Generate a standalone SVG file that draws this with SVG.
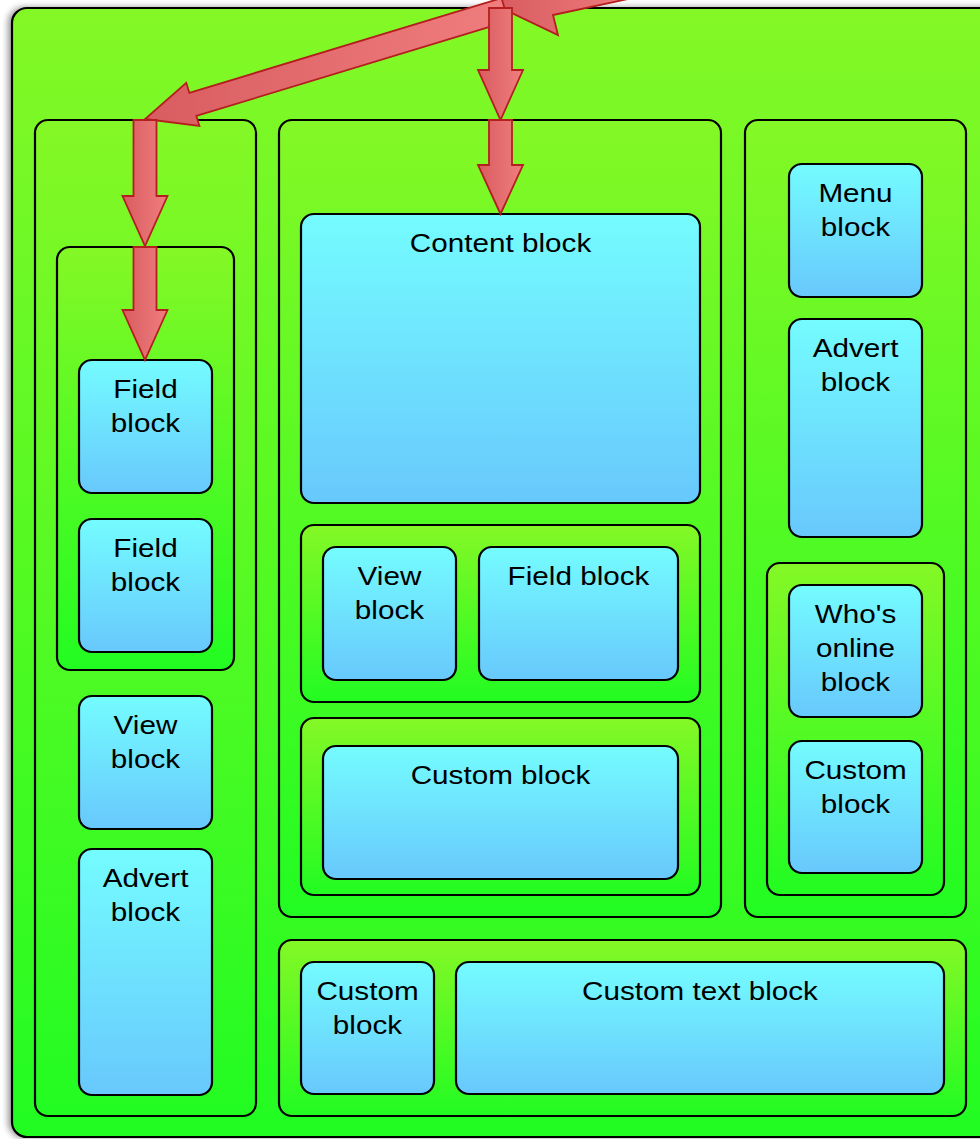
<svg xmlns="http://www.w3.org/2000/svg" width="980" height="1139" viewBox="0 0 980 1139">
<defs>
<linearGradient id="gGreen" x1="0" y1="0" x2="0" y2="1">
<stop offset="0" stop-color="#84f826"/>
<stop offset="1" stop-color="#22fc22"/>
</linearGradient>
<linearGradient id="gBlue" x1="0" y1="0" x2="0" y2="1">
<stop offset="0" stop-color="#74fcff"/>
<stop offset="1" stop-color="#68c8fc"/>
</linearGradient>
<linearGradient id="gRed" x1="0" y1="0" x2="1" y2="0">
<stop offset="0" stop-color="#d85c60"/>
<stop offset="1" stop-color="#f07e7e"/>
</linearGradient>
<filter id="shadow" x="-5%" y="-5%" width="110%" height="110%">
<feDropShadow dx="-3" dy="0" stdDeviation="3" flood-color="#000" flood-opacity="0.4"/>
</filter>
<style>
.cont{fill:url(#gGreen);stroke:#000;stroke-width:2.2}
.blk{fill:url(#gBlue);stroke:#000;stroke-width:2.2}
.arrow{fill:url(#gRed);stroke:#b41e1e;stroke-width:1.8;stroke-linejoin:miter}
text{font-family:"Liberation Sans",Arial,sans-serif;font-size:26.5px;fill:#000;text-anchor:middle}
</style>
</defs>
<g id="page">
<rect class="cont" x="12" y="8" width="990" height="1129" rx="15" filter="url(#shadow)"/>
</g>
<g id="left-column">
<rect class="cont" x="35" y="120" width="221" height="996" rx="13"/>
</g>
<g id="left-field-group">
<rect class="cont" x="57" y="247" width="177" height="423" rx="13"/>
</g>
<g id="left-field-1">
<rect class="blk" x="79" y="360" width="133" height="133" rx="13"/>
<text transform="translate(145.5,398) scale(1.12,1)" x="0" y="0">Field<tspan x="0" dy="34">block</tspan></text>
</g>
<g id="left-field-2">
<rect class="blk" x="79" y="519" width="133" height="133" rx="13"/>
<text transform="translate(145.5,557) scale(1.12,1)" x="0" y="0">Field<tspan x="0" dy="34">block</tspan></text>
</g>
<g id="left-view">
<rect class="blk" x="79" y="696" width="133" height="133" rx="13"/>
<text transform="translate(145.5,734) scale(1.12,1)" x="0" y="0">View<tspan x="0" dy="34">block</tspan></text>
</g>
<g id="left-advert">
<rect class="blk" x="79" y="849" width="133" height="246" rx="13"/>
<text transform="translate(145.5,887) scale(1.12,1)" x="0" y="0">Advert<tspan x="0" dy="34">block</tspan></text>
</g>
<g id="middle-column">
<rect class="cont" x="279" y="120" width="442" height="797" rx="13"/>
</g>
<g id="content-block">
<rect class="blk" x="301" y="214" width="399" height="289" rx="13"/>
<text transform="translate(500.5,252) scale(1.12,1)" x="0" y="0">Content block</text>
</g>
<g id="middle-group-1">
<rect class="cont" x="301" y="525" width="399" height="177" rx="13"/>
</g>
<g id="mid-view">
<rect class="blk" x="323" y="547" width="133" height="133" rx="13"/>
<text transform="translate(389.5,585) scale(1.12,1)" x="0" y="0">View<tspan x="0" dy="34">block</tspan></text>
</g>
<g id="mid-field">
<rect class="blk" x="479" y="547" width="199" height="133" rx="13"/>
<text transform="translate(578.5,585) scale(1.12,1)" x="0" y="0">Field block</text>
</g>
<g id="middle-group-2">
<rect class="cont" x="301" y="718" width="399" height="177" rx="13"/>
</g>
<g id="mid-custom">
<rect class="blk" x="323" y="746" width="355" height="133" rx="13"/>
<text transform="translate(500.5,784) scale(1.12,1)" x="0" y="0">Custom block</text>
</g>
<g id="right-column">
<rect class="cont" x="745" y="120" width="221" height="797" rx="13"/>
</g>
<g id="menu-block">
<rect class="blk" x="789" y="164" width="133" height="133" rx="13"/>
<text transform="translate(855.5,202) scale(1.12,1)" x="0" y="0">Menu<tspan x="0" dy="34">block</tspan></text>
</g>
<g id="right-advert">
<rect class="blk" x="789" y="319" width="133" height="218" rx="13"/>
<text transform="translate(855.5,357) scale(1.12,1)" x="0" y="0">Advert<tspan x="0" dy="34">block</tspan></text>
</g>
<g id="right-group">
<rect class="cont" x="767" y="563" width="177" height="332" rx="13"/>
</g>
<g id="whos-online">
<rect class="blk" x="789" y="585" width="133" height="132" rx="13"/>
<text transform="translate(855.5,623) scale(1.12,1)" x="0" y="0">Who's<tspan x="0" dy="34">online</tspan><tspan x="0" dy="34">block</tspan></text>
</g>
<g id="right-custom">
<rect class="blk" x="789" y="741" width="133" height="132" rx="13"/>
<text transform="translate(855.5,779) scale(1.12,1)" x="0" y="0">Custom<tspan x="0" dy="34">block</tspan></text>
</g>
<g id="bottom-row">
<rect class="cont" x="279" y="940" width="687" height="176" rx="13"/>
</g>
<g id="bottom-custom">
<rect class="blk" x="301" y="962" width="133" height="132" rx="13"/>
<text transform="translate(367.5,1000) scale(1.12,1)" x="0" y="0">Custom<tspan x="0" dy="34">block</tspan></text>
</g>
<g id="custom-text">
<rect class="blk" x="456" y="962" width="488" height="132" rx="13"/>
<text transform="translate(700,1000) scale(1.12,1)" x="0" y="0">Custom text block</text>
</g>
<g id="connectors">
<polygon class="arrow" points="499,7 512,-25 545,-8 635,-30 642,-4 553,15 558,35"/>
<polygon class="arrow" points="501.5,-1.9 189.35,92.95 186.3,82.9 145,119 199.4,126 196.35,115.95 508.5,21.1"/>
<polygon class="arrow" points="489,8 512,8 512,70 523,70 500.5,120 478,70 489,70"/>
<polygon class="arrow" points="489,120 512,120 512,165 523,165 500.5,214 478,165 489,165"/>
<polygon class="arrow" points="133.5,120 156.5,120 156.5,196 167.5,196 145,246 122.5,196 133.5,196"/>
<polygon class="arrow" points="133.5,247 156.5,247 156.5,310 167.5,310 145,360 122.5,310 133.5,310"/>
</g>
</svg>
